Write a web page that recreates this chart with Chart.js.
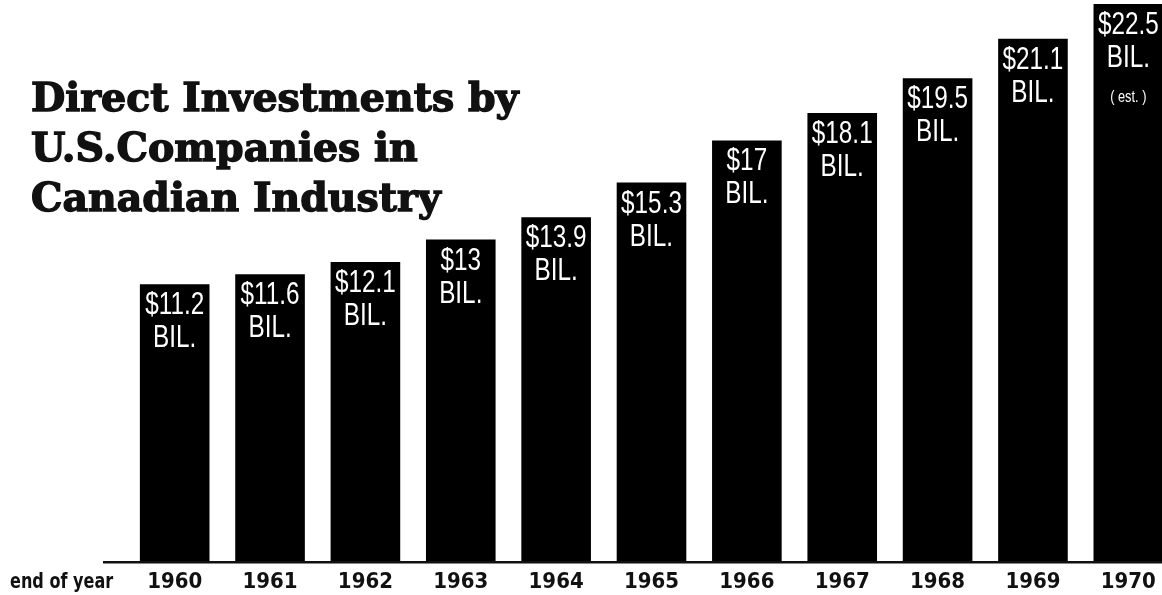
<!DOCTYPE html>
<html lang="en">
<head>
  <meta charset="UTF-8" />
  <title>Direct Investments by U.S. Companies in Canadian Industry</title>
  <script src="https://cdn.jsdelivr.net/npm/chart.js"></script>
  <style>
    body {
      margin: 0;
      background: #fff;
      overflow: hidden;
      width: 1162px;
      height: 595px;
      position: relative;
    }
    canvas { position: absolute; left: 0; top: 0; }
    .title {
      position: absolute;
      left: 31px;
      top: 72px;
      margin: 0;
      font-family: 'DejaVu Serif', serif;
      font-weight: bold;
      font-size: 39.5px;
      line-height: 50px;
      color: #111;
      -webkit-text-stroke: 1.4px #111;
      white-space: nowrap;
    }
  </style>
</head>
<body>
  <canvas id="chart" width="1176" height="595"></canvas>
  <h1 class="title">Direct Investments by<br>U.S.Companies in<br>Canadian Industry</h1>

  <script>
    // end-of-year figures, billions of dollars
    const years = ['1960','1961','1962','1963','1964','1965','1966','1967','1968','1969','1970'];
    const investments = [11.2, 11.6, 12.1, 13, 13.9, 15.3, 17, 18.1, 19.5, 21.1, 22.5];
    const notes = ['', '', '', '', '', '', '', '', '', '', '( est. )'];
    const axisCaption = 'end of year';

    // draw text squeezed horizontally (no narrow font installed)
    function narrowText(c, txt, x, y, sx) {
      c.save();
      c.translate(x, y);
      c.scale(sx, 1);
      c.fillText(txt, 0, 0);
      c.restore();
    }

    // white text at the top of each bar + the baseline rule
    const barText = {
      id: 'barText',
      afterDatasetsDraw(chart) {
        const c = chart.ctx;
        const meta = chart.getDatasetMeta(0);
        const x = chart.scales.x;
        const y0 = chart.scales.y.getPixelForValue(0);
        c.save();
        c.fillStyle = '#fff';
        c.textAlign = 'center';
        c.textBaseline = 'alphabetic';
        meta.data.forEach((bar, i) => {
          c.font = '32px "Liberation Sans", sans-serif';
          narrowText(c, '$' + investments[i], bar.x, bar.y + 30, 0.76);
          narrowText(c, 'BIL.', bar.x, bar.y + 63, 0.76);
          if (notes[i]) {
            c.font = '16px "Liberation Sans", sans-serif';
            narrowText(c, notes[i], bar.x, bar.y + 98, 0.8);
          }
        });
        // baseline
        c.fillStyle = '#111';
        c.fillRect(103, y0 - 1, chart.width - 103, 2.5);
        // caption left of year labels
        c.font = 'bold 21px "DejaVu Sans Condensed", sans-serif';
        c.textAlign = 'left';
        c.textBaseline = 'middle';
        narrowText(c, axisCaption, 10, x.top + 7 + 13.2, 0.85);
        c.restore();
      }
    };

    new Chart(document.getElementById('chart'), {
      type: 'bar',
      data: {
        labels: years,
        datasets: [{
          data: investments,
          backgroundColor: '#000',
          borderWidth: 0,
          categoryPercentage: 1,
          barPercentage: 0.73
        }]
      },
      options: {
        responsive: false,
        devicePixelRatio: 1,
        animation: false,
        layout: { padding: { left: 127, right: 0, top: 0, bottom: 0 } },
        plugins: {
          legend: { display: false },
          tooltip: { enabled: false },
          title: { display: false }
        },
        scales: {
          x: {
            grid: { display: false, drawTicks: false },
            border: { display: false },
            ticks: {
              color: '#111',
              padding: 7,
              font: { family: '"DejaVu Sans Condensed", sans-serif', weight: 'bold', size: 22 }
            },
            afterFit: s => { s.height = 33; }
          },
          y: {
            display: false,
            min: 0,
            max: 22.66
          }
        }
      },
      plugins: [barText]
    });
  </script>
</body>
</html>
